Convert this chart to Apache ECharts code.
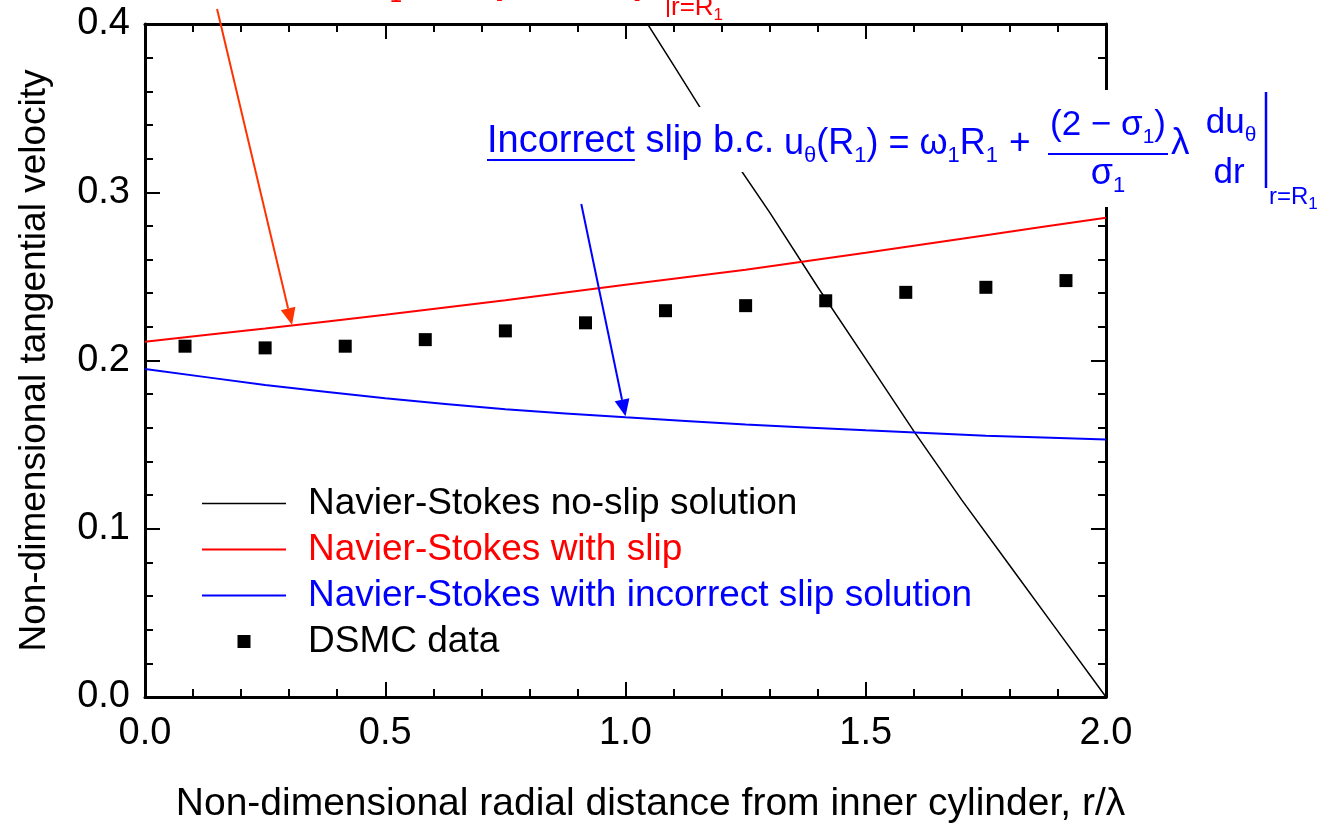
<!DOCTYPE html>
<html>
<head>
<meta charset="utf-8">
<script src="https://cdn.jsdelivr.net/npm/echarts@6/dist/echarts.min.js"></script>
<style>
  html, body { margin: 0; padding: 0; background: #ffffff; }
  #chart { width: 1327px; height: 824px; }
</style>
</head>
<body>
<div id="chart"></div>
<script>
const FONT = "'Liberation Sans', Arial, Helvetica, sans-serif";

// Navier-Stokes solutions sampled along the gap
const nsX = [0, 0.25, 0.5, 0.75, 1.0, 1.25, 1.5, 1.75, 2.0];
const slipY = [0.2112, 0.2190, 0.2272, 0.2358, 0.2450, 0.2540, 0.2640, 0.2745, 0.2848];
const incorrectSlipY = [0.1950, 0.1855, 0.1775, 0.1710, 0.1662, 0.1620, 0.1585, 0.1553, 0.1530];
const noSlipX = [1.0, 1.1, 1.2, 1.3, 1.4, 1.5, 1.6, 1.7, 1.8, 1.9, 2.0];
const noSlipY = [0.4207, 0.3756, 0.3300, 0.2880, 0.2437, 0.2010, 0.1580, 0.1170, 0.0780, 0.0390, 0.0];

// DSMC cell-centred samples
const dsmcX = [0.0833, 0.25, 0.4167, 0.5833, 0.75, 0.9167, 1.0833, 1.25, 1.4167, 1.5833, 1.75, 1.9167];
const dsmcY = [0.2085, 0.2075, 0.2085, 0.2124, 0.2176, 0.2224, 0.2296, 0.2326, 0.2355, 0.2405, 0.2435, 0.2475];

// Tick labels
const xTickLabels = ['0.0', '0.5', '1.0', '1.5', '2.0'];
const yTickLabels = ['0.0', '0.1', '0.2', '0.3', '0.4'];

const seriesNames = [
  'Navier-Stokes no-slip solution',
  'Navier-Stokes with slip',
  'Navier-Stokes with incorrect slip solution',
  'DSMC data'
];

// Annotation arrows (data units): tail -> head
const slipArrow = [[0.150, 0.4089], [0.306, 0.2211]];
const incorrectArrow = [[0.908, 0.2930], [1.000, 0.1668]];

const RED = '#ff0000';
const ARROW_RED = '#ff3300';
const BLUE = '#0000ff';

const zip = (xs, ys) => xs.map((x, i) => [x, ys[i]]);

const axisCommon = {
  axisLine: { show: true, onZero: false, lineStyle: { color: '#000', width: 3 } },
  axisTick: { show: true, inside: true, length: 15, lineStyle: { color: '#000', width: 2 } },
  minorTick: { show: true, splitNumber: 5, length: 8, lineStyle: { color: '#000', width: 2 } },
  splitLine: { show: false },
  minorSplitLine: { show: false }
};

const chart = echarts.init(document.getElementById('chart'), null, { renderer: 'canvas' });

chart.setOption({
  animation: false,
  backgroundColor: '#ffffff',
  textStyle: { fontFamily: FONT },
  grid: { left: 145, right: 221, top: 24, bottom: 127, containLabel: false, outerBoundsMode: 'none' },
  legend: {
    orient: 'vertical',
    left: 197,
    top: 480,
    itemWidth: 84,
    itemHeight: 13,
    itemGap: 9,
    selectedMode: false,
    textStyle: { fontFamily: FONT, fontSize: 37, color: '#000', padding: [0, 0, 0, 17] },
    data: [
      { name: seriesNames[0], icon: 'path://M0,0H84V1.6H0Z', textStyle: { color: '#000' } },
      { name: seriesNames[1], icon: 'path://M0,0H84V2H0Z', textStyle: { color: RED } },
      { name: seriesNames[2], icon: 'path://M0,0H84V2H0Z', textStyle: { color: BLUE } },
      { name: seriesNames[3], icon: 'path://M0,0H13V13H0Z', textStyle: { color: '#000' } }
    ]
  },
  xAxis: [
    Object.assign({
      type: 'value', min: 0, max: 2, interval: 0.5, position: 'bottom',
      axisLabel: {
        margin: 18, fontSize: 38, color: '#000', fontFamily: FONT,
        formatter: v => xTickLabels[Math.round(v / 0.5)]
      },
      name: 'Non-dimensional radial distance from inner cylinder, r/λ',
      nameLocation: 'middle', nameGap: 88,
      nameTextStyle: { fontSize: 39, color: '#000', fontFamily: FONT, padding: [0, 0, 0, 50] }
    }, axisCommon),
    Object.assign({
      type: 'value', min: 0, max: 2, interval: 0.5, position: 'top',
      axisLabel: { show: false }
    }, axisCommon)
  ],
  yAxis: [
    Object.assign({
      type: 'value', min: 0, max: 0.4, interval: 0.1, position: 'left',
      axisLabel: {
        margin: 15, fontSize: 38, color: '#000', fontFamily: FONT,
        formatter: v => yTickLabels[Math.round(v / 0.1)]
      },
      name: 'Non-dimensional tangential velocity',
      nameLocation: 'middle', nameGap: 92, nameRotate: 90,
      nameTextStyle: { fontSize: 37, color: '#000', fontFamily: FONT }
    }, axisCommon),
    Object.assign({
      type: 'value', min: 0, max: 0.4, interval: 0.1, position: 'right',
      axisLabel: { show: false }
    }, axisCommon)
  ],
  series: [
    {
      type: 'line', name: seriesNames[0], data: zip(noSlipX, noSlipY),
      symbol: 'none', showSymbol: false, clip: true, z: 3,
      lineStyle: { color: '#000', width: 1.5 }, itemStyle: { color: '#000' }
    },
    {
      type: 'line', name: seriesNames[1], data: zip(nsX, slipY),
      symbol: 'none', showSymbol: false, smooth: 0.2, clip: true, z: 3,
      lineStyle: { color: RED, width: 2 }, itemStyle: { color: RED }
    },
    {
      type: 'line', name: seriesNames[2], data: zip(nsX, incorrectSlipY),
      symbol: 'none', showSymbol: false, smooth: 0.2, clip: true, z: 3,
      lineStyle: { color: BLUE, width: 2 }, itemStyle: { color: BLUE }
    },
    {
      type: 'scatter', name: seriesNames[3], data: zip(dsmcX, dsmcY),
      symbol: 'rect', symbolSize: 13, z: 4,
      itemStyle: { color: '#000', opacity: 1 }
    }
  ]
});

// ---- text layout helpers for the boundary-condition formulas ----
const measureCtx = document.createElement('canvas').getContext('2d');
function measure(t, fs) {
  measureCtx.font = fs + 'px ' + FONT;
  return measureCtx.measureText(t).width;
}
// place text so that its alphabetic baseline sits at `baseline`
function textEl(t, x, baseline, fs, color, align) {
  return {
    type: 'text', x: x, y: baseline - 0.3465 * fs, z: 110, silent: true,
    style: { text: t, font: fs + 'px ' + FONT, fill: color, align: align || 'left', verticalAlign: 'middle' }
  };
}
function runWidth(pieces) {
  return pieces.reduce((s, p) => s + measure(p[0], p[1]), 0);
}
function run(pieces, x, baseline, color, out) {
  for (const p of pieces) {
    out.push(textEl(p[0], x, baseline + (p[2] || 0), p[1], color));
    x += measure(p[0], p[1]);
  }
  return x;
}
function hline(x1, x2, y, color, w, out) {
  out.push({ type: 'line', z: 110, silent: true, shape: { x1: x1, y1: y, x2: x2, y2: y }, style: { stroke: color, lineWidth: w } });
}
function vline(x, y1, y2, color, w, out) {
  out.push({ type: 'line', z: 110, silent: true, shape: { x1: x, y1: y1, x2: x, y2: y2 }, style: { stroke: color, lineWidth: w } });
}

const g = [];

// white panels behind the formula
g.push({ type: 'rect', z: 100, silent: true, shape: { x: 480, y: 107, width: 295, height: 65 }, style: { fill: '#ffffff' } });
g.push({ type: 'rect', z: 100, silent: true, shape: { x: 775, y: 90, width: 552, height: 117 }, style: { fill: '#ffffff' } });

// "Incorrect slip b.c."  u_θ(R1) = ω1R1 + (2−σ1)/σ1 λ du_θ/dr |r=R1
{
  const x0 = 487, base = 155;
  const w = measure('Incorrect', 38);
  g.push(textEl('Incorrect', x0, base, 38, BLUE));
  hline(x0, x0 + w, base + 5, BLUE, 2, g);
  run([[' slip b.c.', 38]], x0 + w, base, BLUE, g);

  const eb = 157;
  run([['u', 36], ['θ', 22, 7], ['(R', 36], ['1', 22, 7], [') = ω', 36], ['1', 22, 7], ['R', 36], ['1', 22, 7]], 784, eb, BLUE, g);
  run([['+', 37]], 1009, eb, BLUE, g);

  // (2 − σ1) / σ1
  const cx = 1108;
  const num = [['(2 − σ', 35], ['1', 21, 7], [')', 35]];
  run(num, cx - runWidth(num) / 2, 137, BLUE, g);
  hline(1048, 1168, 154, BLUE, 2, g);
  const den = [['σ', 36], ['1', 22, 7]];
  run(den, cx - runWidth(den) / 2, 187, BLUE, g);

  run([['λ', 37]], 1171, eb, BLUE, g);

  // du_θ over dr
  const num2 = [['du', 35], ['θ', 21, 7]];
  run(num2, 1231 - runWidth(num2) / 2, 135, BLUE, g);
  const den2 = [['dr', 35]];
  run(den2, 1229 - runWidth(den2) / 2, 185, BLUE, g);

  vline(1266, 92, 188, BLUE, 2.5, g);
  run([['r=R', 24], ['1', 17, 4]], 1269, 206, BLUE, g);
}

// "Correct slip b.c." formula, running above the frame
{
  run([['Correct slip b.c.  u', 36], ['θ', 22, 7], ['(R', 36], ['1', 22, 7], [') = ω', 36], ['1', 22, 7], ['R', 36], ['1', 22, 7], [' +', 36]], -60, -52, RED, g);
  run([['(2 − σ', 30], ['1', 19, 6], [')', 30]], 330, -40, RED, g);
  run([['σ', 32], ['1', 22, 8]], 370, -4, RED, g);
  run([['λ', 34]], 420, -22, RED, g);
  g.push(textEl('(', 484, -7, 56, RED));
  run([['du', 30], ['θ', 19, 6]], 505, -42, RED, g);
  run([['dr', 30]], 508, -10, RED, g);
  run([['−', 32]], 550, -22, RED, g);
  run([['u', 30], ['θ', 19, 6]], 590, -42, RED, g);
  run([['r', 30]], 598, -10, RED, g);
  g.push(textEl(')', 634, -7, 56, RED));
  vline(668, -60, 17, RED, 2, g);
  run([['r=R', 26], ['1', 17, 4]], 671, 17, RED, g);
}

// arrows pointing at the slip curves
function arrow(p0, p1, color, out) {
  const len = 17, half = 7.5;
  const dx = p1[0] - p0[0], dy = p1[1] - p0[1];
  const L = Math.hypot(dx, dy), ux = dx / L, uy = dy / L;
  const bx = p1[0] - ux * len, by = p1[1] - uy * len;
  out.push({ type: 'line', z: 120, silent: true, shape: { x1: p0[0], y1: p0[1], x2: bx, y2: by }, style: { stroke: color, lineWidth: 2 } });
  out.push({ type: 'polygon', z: 120, silent: true,
    shape: { points: [[p1[0], p1[1]], [bx - uy * half, by + ux * half], [bx + uy * half, by - ux * half]] },
    style: { fill: color } });
}
const toPx = p => chart.convertToPixel({ gridIndex: 0 }, p);
arrow(toPx(slipArrow[0]), toPx(slipArrow[1]), ARROW_RED, g);
arrow(toPx(incorrectArrow[0]), toPx(incorrectArrow[1]), BLUE, g);

chart.setOption({ graphic: g });
</script>
</body>
</html>
